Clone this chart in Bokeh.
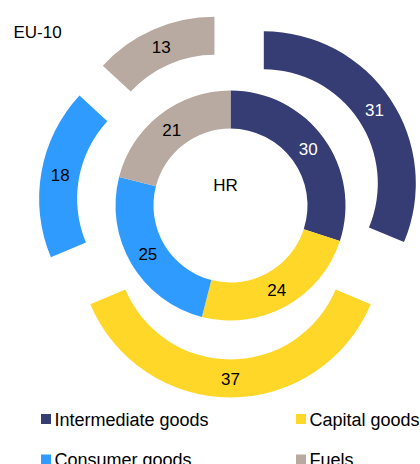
import numpy as np
from bokeh.plotting import figure
from bokeh.models import Range1d, ColumnDataSource
from bokeh.core.properties import value
from bokeh.embed import file_html
from bokeh.resources import INLINE

categories = ["Intermediate goods", "Capital goods", "Consumer goods", "Fuels"]
hr = [30, 24, 25, 21]
eu10 = [31, 37, 18, 13]
colors = ["#363C74", "#FFD728", "#309BFF", "#B8A9A1"]
label_colors = ["white", "black", "black", "black"]
inner_title = "HR"
outer_title = "EU-10"

W, H = 420, 464
FONT = value("Liberation Sans")

p = figure(width=W, height=H, output_backend="svg", toolbar_location=None,
           x_range=Range1d(0, W), y_range=Range1d(0, H),
           min_border=0, outline_line_color=None)
p.axis.visible = False
p.grid.visible = False
p.background_fill_color = "white"
p.border_fill_color = "white"


def sy(y):
    return H - y


cx, cy = 230, sy(205)


def ring(vals, r_in, r_out, explode):
    vals = np.array(vals, dtype=float)
    frac = vals / vals.sum()
    ends = np.cumsum(frac) * 2 * np.pi
    starts = ends - frac * 2 * np.pi
    mids = (starts + ends) / 2
    xs = cx + explode * np.sin(mids)
    ys = cy + explode * np.cos(mids)
    src = ColumnDataSource(dict(
        x=xs, y=ys,
        start=np.pi / 2 - ends, end=np.pi / 2 - starts,
        color=colors,
        lx=xs + (r_in + r_out) / 2 * np.sin(mids),
        ly=ys + (r_in + r_out) / 2 * np.cos(mids),
        txt=[str(v) for v in vals.astype(int)],
        tc=label_colors,
    ))
    p.annular_wedge(x="x", y="y", inner_radius=r_in, outer_radius=r_out,
                    start_angle="start", end_angle="end", color="color",
                    line_color=None, source=src)
    p.text(x="lx", y="ly", text="txt", text_color="tc", text_font=FONT,
           text_font_size="17px", text_align="center", text_baseline="middle",
           source=src)


ring(hr, 77, 115, 0)
ring(eu10, 114, 152, 40)

p.text(x=[225], y=[sy(185)], text=[inner_title], text_font=FONT,
       text_font_size="17px", text_align="center", text_baseline="middle",
       text_color="black")
p.text(x=[13], y=[sy(32)], text=[outer_title], text_font=FONT,
       text_font_size="17px", text_align="left", text_baseline="middle",
       text_color="black")

# legend
lx = [45.5, 300.5, 45.5, 300.5]
ly = [sy(418.5), sy(418.5), sy(459), sy(459)]
p.rect(x=lx, y=ly, width=10, height=10, color=colors, line_color=None)
p.text(x=[x + 8.5 for x in lx], y=[y - 0.5 for y in ly], text=categories,
       text_font=FONT, text_font_size="18px", text_align="left",
       text_baseline="middle", text_color="black")

open("out.html", "w").write(file_html(p, INLINE))
